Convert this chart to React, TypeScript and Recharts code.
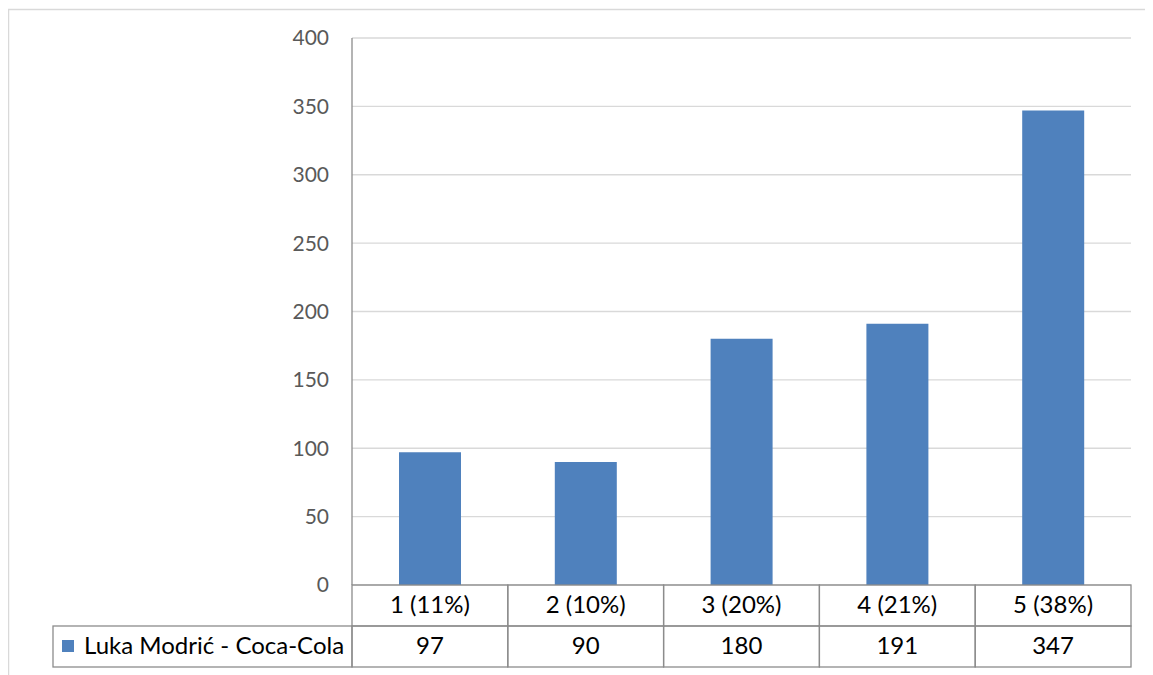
import React from "react";
import { BarChart, Bar, XAxis, YAxis, CartesianGrid } from "recharts";

const categories = ["1 (11%)", "2 (10%)", "3 (20%)", "4 (21%)", "5 (38%)"];
const values = [97, 90, 180, 191, 347];
const seriesName = "Luka Modrić - Coca-Cola";
const yTicks = [0, 50, 100, 150, 200, 250, 300, 350, 400];

const data = categories.map((c, i) => ({ name: c, value: values[i] }));

const W = 1145;
const H = 667;
const MARGIN = { top: 30, right: 22, left: 0, bottom: 8 };
const Y_W = 344;
const ROW_H = 41;
const BAND = (W - MARGIN.left - MARGIN.right - Y_W) / categories.length;
const TABLE_LEFT = 45;
const BORDER = "#8c8c8c";
const FONT = "Lato, 'Open Sans', sans-serif";
const COLOR = "#4f81bd";
const TABLE_FS = 24;

const TableTick = (props: any) => {
  const { x, y, index } = props;
  const left = x - BAND / 2;
  const top = y;
  return (
    <g>
      <rect x={left} y={top} width={BAND} height={ROW_H} fill="none" stroke={BORDER} strokeWidth={1.3} />
      <rect x={left} y={top + ROW_H} width={BAND} height={ROW_H} fill="none" stroke={BORDER} strokeWidth={1.3} />
      <text x={x} y={top + ROW_H / 2 + 1} textAnchor="middle" dominantBaseline="middle" fontSize={TABLE_FS} fill="#000" fontFamily={FONT}>
        {categories[index]}
      </text>
      <text x={x} y={top + ROW_H * 1.5 + 1} textAnchor="middle" dominantBaseline="middle" fontSize={TABLE_FS} fill="#000" fontFamily={FONT}>
        {values[index]}
      </text>
      {index === 0 && (
        <g>
          <rect x={TABLE_LEFT} y={top + ROW_H} width={left - TABLE_LEFT} height={ROW_H} fill="none" stroke={BORDER} strokeWidth={1.3} />
          <rect x={TABLE_LEFT + 9} y={top + ROW_H + 14} width={12} height={12} fill={COLOR} />
          <text x={TABLE_LEFT + 31} y={top + ROW_H * 1.5 + 1} dominantBaseline="middle" fontSize={TABLE_FS} fill="#000" fontFamily={FONT}>
            {seriesName}
          </text>
        </g>
      )}
    </g>
  );
};

export default function App() {
  return (
    <div style={{ position: "relative", width: W, height: H }}>
      <BarChart width={W} height={H} data={data} margin={MARGIN}>
        <rect x={0.5} y={1.5} width={W + 10} height={H + 10} fill="none" stroke="#d9d9d9" strokeWidth={1.5} />
        <CartesianGrid vertical={false} stroke="#d9d9d9" strokeWidth={1.3} />
        <YAxis
          width={Y_W}
          domain={[0, 400]}
          ticks={yTicks}
          interval={0}
          tickLine={false}
          tickSize={0}
          tickMargin={23}
          axisLine={{ stroke: BORDER, strokeWidth: 1.3 }}
          tick={{ fill: "#595959", fontSize: 21, fontFamily: FONT }}
        />
        <XAxis
          dataKey="name"
          height={ROW_H * 2}
          tickLine={false}
          tickSize={0}
          tickMargin={0}
          axisLine={false}
          interval={0}
          tick={<TableTick />}
        />
        <Bar dataKey="value" fill={COLOR} barSize={62} isAnimationActive={false} />
      </BarChart>
    </div>
  );
}
